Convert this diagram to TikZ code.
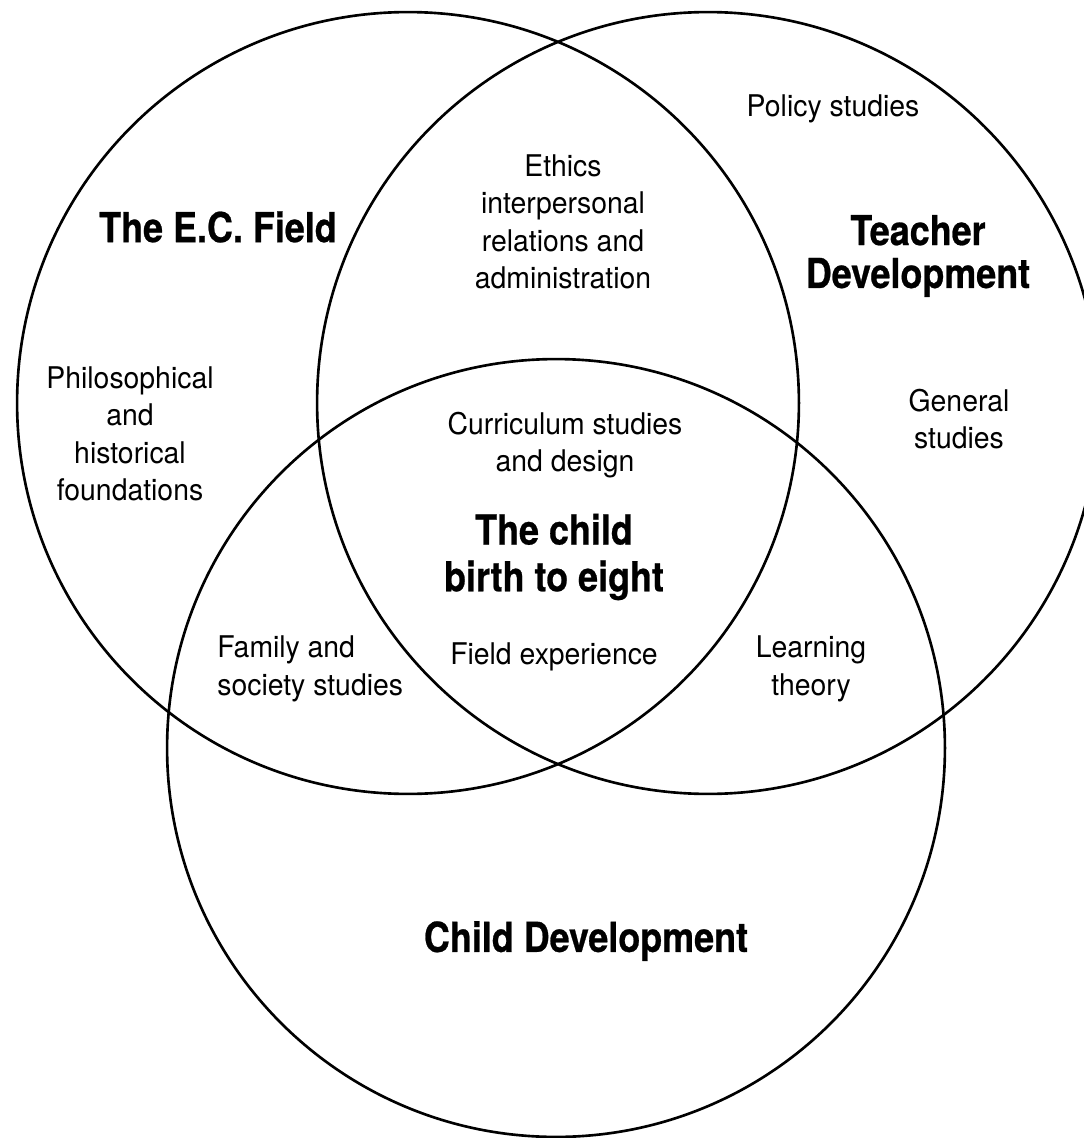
\documentclass[tikz,border=0pt]{standalone}
\usepackage{fontspec}
\setmainfont{TeX Gyre Heros}[FakeStretch=0.95]
\newfontfamily\boldcond{TeX Gyre Heros}[FakeStretch=0.87,FakeBold=0.6,UprightFont=*-Bold]
\begin{document}
\begin{tikzpicture}[x=0.02cm,y=-0.02cm,
  ring/.style={draw=black,line width=1.5pt},
  lbl/.style={align=center,inner sep=0pt,font=\fontsize{17}{21.3}\selectfont},
  ttl/.style={align=center,inner sep=0pt,font=\boldcond\fontsize{23.5}{24.4}\selectfont}]
\useasboundingbox (0,0) rectangle (1083,1138);
\coordinate (cL) at (408,403);
\coordinate (cR) at (708,403);
\coordinate (cB) at (556,748);
\draw[ring] (cL) circle[radius=7.82cm];
\draw[ring] (cR) circle[radius=7.82cm];
\draw[ring] (cB) circle[radius=7.78cm];

\node[ttl] (ec) at (218,227) {The E.C. Field};
\node[ttl] (td) at (918,256) {Teacher\\[0pt]Development};
\node[ttl,font=\boldcond\fontsize{23.5}{26.6}\selectfont] (child) at (554,557) {The child\\birth to eight};
\node[ttl] (cd) at (586,941) {Child Development};

\node[lbl] (policy) at (833,109) {Policy studies};
\node[lbl] (ethics) at (563,222) {Ethics\\interpersonal\\relations and\\administration};
\node[lbl] (phil) at (130,434) {Philosophical\\and\\historical\\foundations};
\node[lbl] (gen) at (959,419) {General\\studies};
\node[lbl] (curr) at (565,445) {Curriculum studies\\and design};
\node[lbl,align=left,anchor=west] (fam) at (217,669) {Family and\\society studies};
\node[lbl] (fieldx) at (554,657) {Field experience};
\node[lbl] (learn) at (811,669) {Learning\\theory};
\end{tikzpicture}
\end{document}
